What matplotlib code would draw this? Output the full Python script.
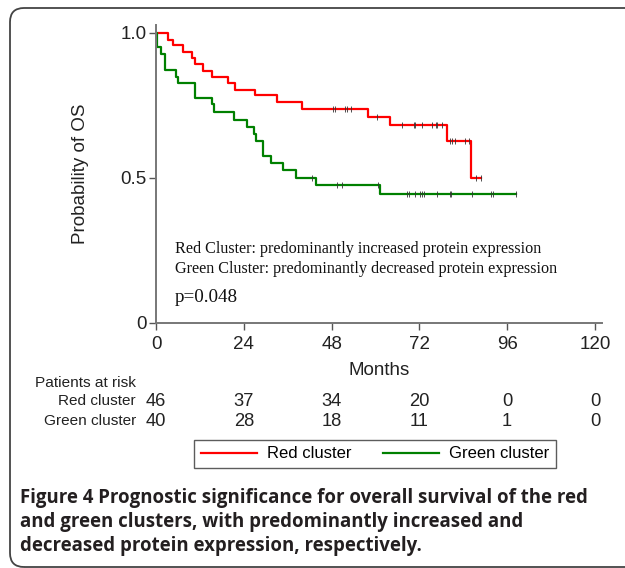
import numpy as np
import matplotlib
matplotlib.use('Agg')
import matplotlib.pyplot as plt
import matplotlib.transforms as mtransforms
from matplotlib.patches import FancyBboxPatch

plt.rcParams['font.family'] = ['Liberation Sans', 'DejaVu Sans']

# Kaplan-Meier steps (time in months, survival after the drop)
red_t = [0, 3.2, 4.6, 7.5, 9.8, 10.7, 12.9, 15.2, 19.8, 21.6, 27.1, 33.2, 39.8, 58.0, 64.0, 79.6, 86.0]
red_s = [1.0, 0.976, 0.956, 0.932, 0.914, 0.893, 0.869, 0.849, 0.825, 0.804, 0.784, 0.762, 0.738, 0.710, 0.681, 0.626, 0.50]
red_end = 88.8
red_cens = [48.3, 48.9, 51.7, 52.3, 53.2, 60.5, 67.3, 70.4, 70.8, 72.8, 75.5, 76.5, 76.7, 78.1,
            80.4, 81.0, 81.7, 84.5, 85.6, 87.5, 88.8]

green_t = [0, 0.4, 1.5, 2.5, 5.6, 6.1, 10.7, 15.2, 15.9, 21.4, 25.0, 26.9, 27.2, 29.3, 31.4, 34.6, 38.2, 43.7, 61.1]
green_s = [1.0, 0.95, 0.926, 0.873, 0.849, 0.825, 0.774, 0.754, 0.726, 0.70, 0.676, 0.652, 0.626, 0.575,
           0.551, 0.525, 0.50, 0.474, 0.444]
green_end = 98.4
green_cens = [42.6, 49.4, 50.9, 60.8, 68.5, 69.2, 70.8, 72.2, 72.8, 73.3, 76.7, 80.4, 80.6, 86.3,
              91.6, 92.0, 98.4]

risk_times = [0, 24, 48, 72, 96, 120]
red_risk = [46, 37, 34, 20, 0, 0]
green_risk = [40, 28, 18, 11, 1, 0]

W, H = 625, 568
fig = plt.figure(figsize=(W / 100, H / 100), dpi=100)

def fx(x):
    return x / W

def fy(y):
    return 1 - y / H

ax = fig.add_axes([fx(156), fy(322.7), 446.3 / W, 297.8 / H])

def step_val(ts, ss, t):
    i = np.searchsorted(ts, t, side='right') - 1
    return ss[i]

for ts, ss, tend, cens, col, lab in [(red_t, red_s, red_end, red_cens, '#ff0000', 'Red cluster'),
                                     (green_t, green_s, green_end, green_cens, '#008000', 'Green cluster')]:
    x = list(ts) + [tend]
    y = list(ss) + [ss[-1]]
    ax.step(x, y, where='post', color=col, linewidth=1.6, label=lab)
    cy = [step_val(ts, ss, c) for c in cens]
    ax.plot(cens, cy, linestyle='none', marker='|', markersize=4, color='#333333', markeredgewidth=0.6)

ax.set_xlim(0, 122)
ax.set_ylim(0, 1.027)
ax.set_xticks(risk_times)
ax.set_yticks([0, 0.5, 1.0])
ax.set_yticklabels(['0', '0.5', '1.0'])
for s in ['top', 'right']:
    ax.spines[s].set_visible(False)
for s in ['left', 'bottom']:
    ax.spines[s].set_color('#777777')
    ax.spines[s].set_linewidth(1.4)
ax.tick_params(direction='out', length=5, width=1, color='#555555', labelsize=13.5, labelcolor='#222222', pad=2)
ax.tick_params(axis='x', pad=4.5)
ax.set_xlabel('Months', fontsize=13.5, color='#222222')
ax.set_ylabel('Probability of OS', fontsize=13.5, color='#222222')
ax.xaxis.set_label_coords(0.5, (322.7 - 362) / 297.8)
ax.yaxis.set_label_coords((89 - 156) / 446.3, 0.5)

# annotation text inside plot
serif = ['Liberation Serif', 'DejaVu Serif']
fig.text(fx(175), fy(249), 'Red Cluster: predominantly increased protein expression', family=serif,
         fontsize=11.6, va='center', color='#111111')
fig.text(fx(175), fy(269), 'Green Cluster: predominantly decreased protein expression', family=serif,
         fontsize=11.6, va='center', color='#111111')
fig.text(fx(175), fy(297), 'p=0.048', family=serif, fontsize=13.8, va='center', color='#111111')

# risk table
tr = mtransforms.blended_transform_factory(ax.transData, fig.transFigure)
fig.text(fx(136), fy(383), 'Patients at risk', ha='right', va='center', fontsize=11.1, color='#222222')
fig.text(fx(136), fy(401), 'Red cluster', ha='right', va='center', fontsize=11.1, color='#222222')
fig.text(fx(136), fy(421), 'Green cluster', ha='right', va='center', fontsize=11.1, color='#222222')
for t, r, g in zip(risk_times, red_risk, green_risk):
    ax.text(t, fy(402), str(r), transform=tr, ha='center', va='center', fontsize=13.2, color='#222222')
    ax.text(t, fy(422), str(g), transform=tr, ha='center', va='center', fontsize=13.2, color='#222222')

leg = ax.legend(loc='center', bbox_to_anchor=(fx(375), fy(454)), bbox_transform=fig.transFigure,
                ncol=2, frameon=True, fancybox=False, edgecolor='#333333', fontsize=12,
                handlelength=3.35, columnspacing=1.9, borderpad=0.4, handletextpad=0.6)
leg.get_frame().set_linewidth(1.0)

# caption
cap = ['Figure 4 Prognostic significance for overall survival of the red',
       'and green clusters, with predominantly increased and',
       'decreased protein expression, respectively.']
for i, line in enumerate(cap):
    fig.text(fx(20), fy(498 + 24 * i), line, family=['Open Sans', 'DejaVu Sans'], fontweight='bold',
             fontsize=13.4, va='center', color='#231f20')

# rounded frame
frame = FancyBboxPatch((0.10, 0.01), 7.0, 5.59, boxstyle='round,pad=0,rounding_size=0.14',
                       transform=fig.dpi_scale_trans, facecolor='none', edgecolor='#444444',
                       linewidth=1.3, clip_on=False)
fig.patches.append(frame)

fig.savefig('out.png', dpi=100)
